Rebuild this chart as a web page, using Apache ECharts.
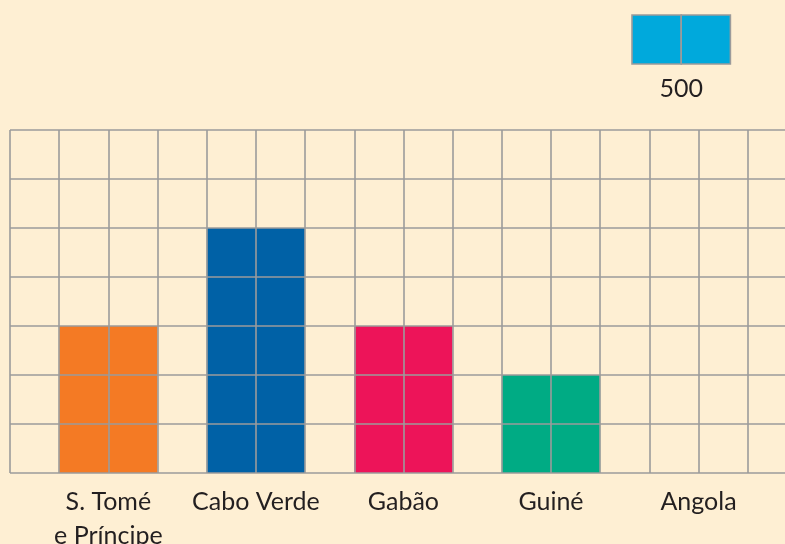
<!DOCTYPE html>
<html>
<head>
<meta charset="utf-8">
<script src="https://cdn.jsdelivr.net/npm/echarts@6/dist/echarts.min.js"></script>
<style>
  html, body { margin: 0; padding: 0; background: #feefd3; }
  #chart { width: 785px; height: 544px; }
</style>
</head>
<body>
<div id="chart"></div>
<script>
// Countries and their totals (one grid row = 500)
const countries = ['S. Tomé\ne Príncipe', 'Cabo Verde', 'Gabão', 'Guiné', 'Angola'];
const values = [1500, 2500, 1500, 1000, 0];
const positions = [2, 5, 8, 11, 14];          // bar centres on the column scale
const barColors = ['#f47a24', '#0061a6', '#ed1459', '#00ab84', '#00a9dc'];
const keyColor = '#00a9dc';
const keyLabel = '500';

const colWidth = 49.18;
const gridLine = '#9b9b9b';
const textColor = '#231f20';
const font = 'Lato';

const chart = echarts.init(document.getElementById('chart'), null, { renderer: 'canvas' });

const labelAt = {};
positions.forEach((p, i) => { labelAt[p] = countries[i]; });

chart.setOption({
  backgroundColor: '#feefd3',
  animation: false,
  grid: { left: 10, top: 130, width: colWidth * 16, height: 343, outerBoundsMode: 'none', containLabel: false },
  xAxis: {
    type: 'value', min: 0, max: 16, interval: 1, z: 5,
    axisLine: { show: false }, axisTick: { show: false },
    splitLine: { show: true, lineStyle: { color: gridLine, width: 1.6 } },
    axisLabel: {
      margin: 12, color: textColor, fontFamily: font, fontSize: 25, lineHeight: 34,
      showMinLabel: true, showMaxLabel: true, hideOverlap: false,
      formatter: v => labelAt[v] || ''
    }
  },
  yAxis: {
    type: 'value', min: 0, max: 3500, interval: 500, z: 5,
    axisLine: { show: false }, axisTick: { show: false }, axisLabel: { show: false },
    splitLine: { show: true, lineStyle: { color: gridLine, width: 1.6 } }
  },
  series: [{
    type: 'bar',
    barWidth: colWidth * 2,
    data: positions.map((p, i) => ({
      value: [p, values[i]],
      itemStyle: { color: barColors[i] }
    }))
  }],
  graphic: [
    { type: 'rect', shape: { x: 632, y: 15, width: 49.2, height: 49 },
      style: { fill: keyColor, stroke: gridLine, lineWidth: 1.6 } },
    { type: 'rect', shape: { x: 681.2, y: 15, width: 49.2, height: 49 },
      style: { fill: keyColor, stroke: gridLine, lineWidth: 1.6 } },
    { type: 'text', x: 681.2, y: 89,
      style: { text: keyLabel, fill: textColor, font: '25px ' + font,
               textAlign: 'center', textVerticalAlign: 'middle' } }
  ]
});
</script>
</body>
</html>
